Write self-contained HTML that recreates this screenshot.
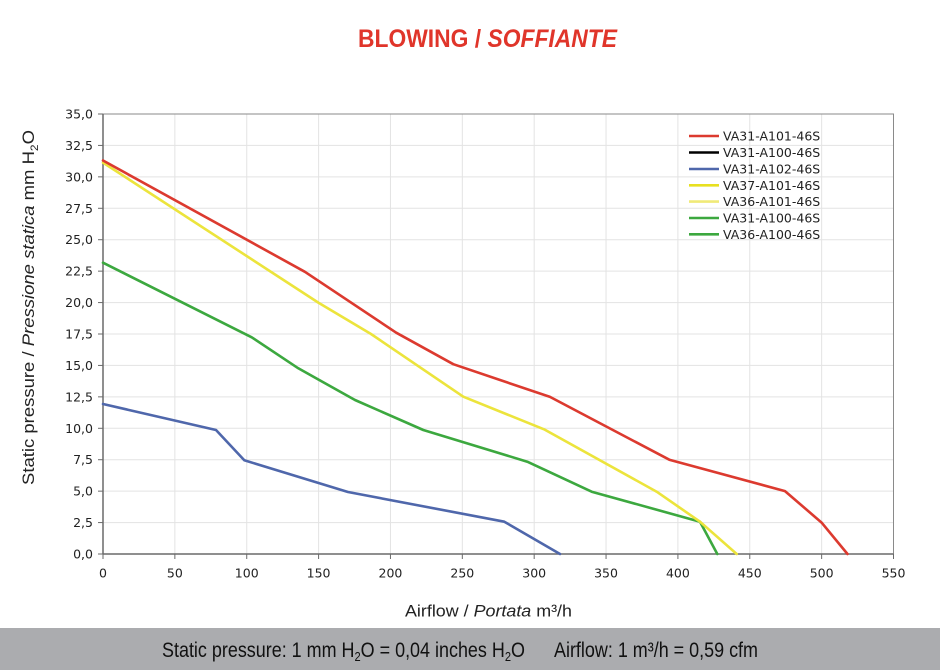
<!DOCTYPE html>
<html>
<head>
<meta charset="utf-8">
<style>
html,body{margin:0;padding:0;background:#fff;}
svg{display:block;}
</style>
</head>
<body>
<svg width="940" height="670" viewBox="0 0 940 670" xmlns="http://www.w3.org/2000/svg">
<rect x="0" y="0" width="940" height="670" fill="#ffffff"/>

<!-- Title -->
<text x="358" y="47" font-family="Liberation Sans, Arial, sans-serif" font-size="25" font-weight="bold" fill="#e0352a" textLength="259" lengthAdjust="spacingAndGlyphs">BLOWING / <tspan font-style="italic">SOFFIANTE</tspan></text>

<!-- Grid -->
<g stroke="#e3e3e3" stroke-width="1">
<line x1="174.86" y1="114" x2="174.86" y2="554"/>
<line x1="246.73" y1="114" x2="246.73" y2="554"/>
<line x1="318.59" y1="114" x2="318.59" y2="554"/>
<line x1="390.45" y1="114" x2="390.45" y2="554"/>
<line x1="462.32" y1="114" x2="462.32" y2="554"/>
<line x1="534.18" y1="114" x2="534.18" y2="554"/>
<line x1="606.05" y1="114" x2="606.05" y2="554"/>
<line x1="677.91" y1="114" x2="677.91" y2="554"/>
<line x1="749.77" y1="114" x2="749.77" y2="554"/>
<line x1="821.64" y1="114" x2="821.64" y2="554"/>
<line x1="103" y1="145.43" x2="893.5" y2="145.43"/>
<line x1="103" y1="176.86" x2="893.5" y2="176.86"/>
<line x1="103" y1="208.29" x2="893.5" y2="208.29"/>
<line x1="103" y1="239.71" x2="893.5" y2="239.71"/>
<line x1="103" y1="271.14" x2="893.5" y2="271.14"/>
<line x1="103" y1="302.57" x2="893.5" y2="302.57"/>
<line x1="103" y1="334" x2="893.5" y2="334"/>
<line x1="103" y1="365.43" x2="893.5" y2="365.43"/>
<line x1="103" y1="396.86" x2="893.5" y2="396.86"/>
<line x1="103" y1="428.29" x2="893.5" y2="428.29"/>
<line x1="103" y1="459.71" x2="893.5" y2="459.71"/>
<line x1="103" y1="491.14" x2="893.5" y2="491.14"/>
<line x1="103" y1="522.57" x2="893.5" y2="522.57"/>
</g>

<!-- Frame -->
<rect x="103" y="114" width="790.5" height="440" fill="none" stroke="#8a8a8a" stroke-width="1"/>
<line x1="103" y1="114" x2="103" y2="554" stroke="#6a6a6a" stroke-width="1.5"/>
<line x1="103" y1="554" x2="893.5" y2="554" stroke="#6a6a6a" stroke-width="1.5"/>

<!-- Ticks -->
<g stroke="#6a6a6a" stroke-width="1">
<line x1="98" y1="114" x2="103" y2="114"/>
<line x1="98" y1="145.43" x2="103" y2="145.43"/>
<line x1="98" y1="176.86" x2="103" y2="176.86"/>
<line x1="98" y1="208.29" x2="103" y2="208.29"/>
<line x1="98" y1="239.71" x2="103" y2="239.71"/>
<line x1="98" y1="271.14" x2="103" y2="271.14"/>
<line x1="98" y1="302.57" x2="103" y2="302.57"/>
<line x1="98" y1="334" x2="103" y2="334"/>
<line x1="98" y1="365.43" x2="103" y2="365.43"/>
<line x1="98" y1="396.86" x2="103" y2="396.86"/>
<line x1="98" y1="428.29" x2="103" y2="428.29"/>
<line x1="98" y1="459.71" x2="103" y2="459.71"/>
<line x1="98" y1="491.14" x2="103" y2="491.14"/>
<line x1="98" y1="522.57" x2="103" y2="522.57"/>
<line x1="98" y1="554" x2="103" y2="554"/>
<line x1="103" y1="554" x2="103" y2="559"/>
<line x1="174.86" y1="554" x2="174.86" y2="559"/>
<line x1="246.73" y1="554" x2="246.73" y2="559"/>
<line x1="318.59" y1="554" x2="318.59" y2="559"/>
<line x1="390.45" y1="554" x2="390.45" y2="559"/>
<line x1="462.32" y1="554" x2="462.32" y2="559"/>
<line x1="534.18" y1="554" x2="534.18" y2="559"/>
<line x1="606.05" y1="554" x2="606.05" y2="559"/>
<line x1="677.91" y1="554" x2="677.91" y2="559"/>
<line x1="749.77" y1="554" x2="749.77" y2="559"/>
<line x1="821.64" y1="554" x2="821.64" y2="559"/>
<line x1="893.5" y1="554" x2="893.5" y2="559"/>
</g>

<!-- Y tick labels -->
<g font-family="DejaVu Sans, Verdana, sans-serif" font-size="12.5" fill="#222" text-anchor="end">
<text x="93" y="118.5">35,0</text>
<text x="93" y="149.9">32,5</text>
<text x="93" y="181.4">30,0</text>
<text x="93" y="212.8">27,5</text>
<text x="93" y="244.2">25,0</text>
<text x="93" y="275.6">22,5</text>
<text x="93" y="307.1">20,0</text>
<text x="93" y="338.5">17,5</text>
<text x="93" y="369.9">15,0</text>
<text x="93" y="401.4">12,5</text>
<text x="93" y="432.8">10,0</text>
<text x="93" y="464.2">7,5</text>
<text x="93" y="495.6">5,0</text>
<text x="93" y="527.1">2,5</text>
<text x="93" y="558.5">0,0</text>
</g>

<!-- X tick labels -->
<g font-family="DejaVu Sans, Verdana, sans-serif" font-size="12.5" fill="#222" text-anchor="middle">
<text x="103" y="577.5">0</text>
<text x="174.86" y="577.5">50</text>
<text x="246.73" y="577.5">100</text>
<text x="318.59" y="577.5">150</text>
<text x="390.45" y="577.5">200</text>
<text x="462.32" y="577.5">250</text>
<text x="534.18" y="577.5">300</text>
<text x="606.05" y="577.5">350</text>
<text x="677.91" y="577.5">400</text>
<text x="749.77" y="577.5">450</text>
<text x="821.64" y="577.5">500</text>
<text x="893.5" y="577.5">550</text>
</g>

<!-- Series -->
<g fill="none" stroke-width="2.6" stroke-linejoin="round" stroke-linecap="round">
<polyline stroke="#3ca83f" points="103,262.7 251.7,337.3 298.3,368.3 355,400 423.3,430 527.3,461.7 591.7,491.7 700,521.7 717.3,554"/>
<polyline stroke="#4f67ab" points="103,404 216,430 244.3,460.3 348,492 504.3,521.7 560,554"/>
<polyline stroke="#ece43c" points="103,162.6 318.3,302.6 371,334 463.3,396.7 544,429.3 656.7,491.7 700,521.7 736.7,554"/>
<polyline stroke="#dc3a2f" points="103,160.5 304.9,271.8 396.2,332.7 453.3,364.2 550,396.9 669.3,459.7 785,491.1 821.6,522.6 847.5,554"/>
</g>

<!-- Legend -->
<g stroke-width="2.6">
<line x1="689" y1="136" x2="719" y2="136" stroke="#dc3a2f"/>
<line x1="689" y1="152.5" x2="719" y2="152.5" stroke="#000000"/>
<line x1="689" y1="169" x2="719" y2="169" stroke="#4f67ab"/>
<line x1="689" y1="185.3" x2="719" y2="185.3" stroke="#e8e020"/>
<line x1="689" y1="201.6" x2="719" y2="201.6" stroke="#f0ea78"/>
<line x1="689" y1="218" x2="719" y2="218" stroke="#3ca83f"/>
<line x1="689" y1="234.3" x2="719" y2="234.3" stroke="#3ca83f"/>
</g>
<g font-family="DejaVu Sans, Verdana, sans-serif" font-size="12.5" fill="#222">
<text x="723" y="140.5">VA31-A101-46S</text>
<text x="723" y="157">VA31-A100-46S</text>
<text x="723" y="173.5">VA31-A102-46S</text>
<text x="723" y="189.8">VA37-A101-46S</text>
<text x="723" y="206.1">VA36-A101-46S</text>
<text x="723" y="222.5">VA31-A100-46S</text>
<text x="723" y="238.8">VA36-A100-46S</text>
</g>

<!-- Y axis title -->
<text transform="translate(34,485) rotate(-90)" font-family="Liberation Sans, Arial, sans-serif" font-size="17" fill="#222" textLength="355" lengthAdjust="spacingAndGlyphs">Static pressure / <tspan font-style="italic">Pressione statica</tspan>  mm  H<tspan font-size="11" dy="4">2</tspan><tspan dy="-4">O</tspan></text>

<!-- X axis title -->
<text x="405" y="616.5" font-family="Liberation Sans, Arial, sans-serif" font-size="16.5" fill="#222" textLength="167" lengthAdjust="spacingAndGlyphs">Airflow / <tspan font-style="italic">Portata</tspan>  m³/h</text>

<!-- Bottom bar -->
<rect x="0" y="628" width="940" height="42" fill="#abacaf"/>
<text x="162" y="657" font-family="Liberation Sans, Arial, sans-serif" font-size="21" fill="#111" textLength="363" lengthAdjust="spacingAndGlyphs">Static pressure: 1 mm H<tspan font-size="13" dy="4">2</tspan><tspan dy="-4">O = 0,04 inches H</tspan><tspan font-size="13" dy="4">2</tspan><tspan dy="-4">O</tspan></text>
<text x="554" y="657" font-family="Liberation Sans, Arial, sans-serif" font-size="21" fill="#111" textLength="204" lengthAdjust="spacingAndGlyphs">Airflow: 1 m³/h = 0,59 cfm</text>
</svg>
</body>
</html>
